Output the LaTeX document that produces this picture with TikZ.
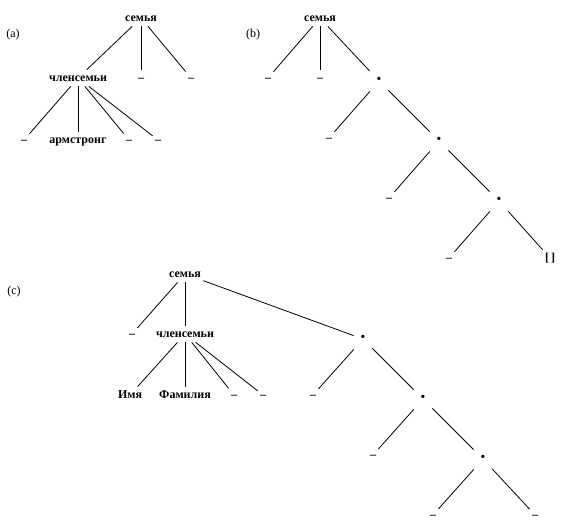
\documentclass[tikz,border=0pt]{standalone}
\usepackage{fontspec}
\setmainfont{Liberation Serif}

\begin{document}
\begin{tikzpicture}[x=1pt,y=-1pt,line width=0.8pt,
  lbl/.style={font=\fontsize{12}{14}\selectfont},
  term/.style={font=\fontsize{12}{14}\selectfont\bfseries,anchor=base,
    text height=9pt,text depth=3pt,inner sep=2pt},
  dotnode/.style={term,font=\fontsize{20}{22}\selectfont\bfseries,
    text height=12pt,text depth=4pt,minimum width=18pt}]
  \useasboundingbox (0,0) rectangle (564,530);

  \node[lbl] (la) at (13,35) {(a)};
  \node[term] (a0) at (141,21) {семья};
  \node[term] (a1) at (78,81) {членсемьи};
  \node[term] (a2) at (141,81) {–};
  \node[term] (a3) at (191,81) {–};
  \node[term] (a4) at (24,143) {–};
  \node[term] (a5) at (78,143) {армстронг};
  \node[term] (a6) at (129,143) {–};
  \node[term] (a7) at (158,143) {–};
  \draw (a0) -- (a1);
  \draw (a0) -- (a2);
  \draw (a0) -- (a3);
  \draw (a1) -- (a4);
  \draw (a1) -- (a5);
  \draw (a1) -- (a6);
  \draw (a1) -- (a7);

  \node[lbl] (lb) at (253,35) {(b)};
  \node[term] (b0) at (320,21) {семья};
  \node[term] (b1) at (268,81) {–};
  \node[term] (b2) at (320,81) {–};
  \node[dotnode] (b3) at (379,85) {·};
  \node[term] (b4) at (329,141) {–};
  \node[dotnode] (b5) at (439,145) {·};
  \node[term] (b6) at (389,201) {–};
  \node[dotnode] (b7) at (499,205) {·};
  \node[term] (b8) at (449,261) {–};
  \node[term] (b9) at (550,261) {[\,]};
  \draw (b0) -- (b1);
  \draw (b0) -- (b2);
  \draw (b0) -- (b3);
  \draw (b3) -- (b4);
  \draw (b3) -- (b5);
  \draw (b5) -- (b6);
  \draw (b5) -- (b7);
  \draw (b7) -- (b8);
  \draw (b7) -- (b9);

  \node[lbl] (lc) at (14,292) {(c)};
  \node[term] (c0) at (185,277) {семья};
  \node[term] (c1) at (132,337) {–};
  \node[term] (c2) at (185,337) {членсемьи};
  \node[dotnode] (c3) at (363,343) {·};
  \node[term] (c4) at (130,398) {Имя};
  \node[term] (c5) at (185,398) {Фамилия};
  \node[term] (c6) at (234,398) {–};
  \node[term] (c7) at (263,398) {–};
  \node[term] (c8) at (313,398) {–};
  \node[dotnode] (c9) at (423,403) {·};
  \node[term] (c10) at (373,458) {–};
  \node[dotnode] (c11) at (483,463) {·};
  \node[term] (c12) at (433,518) {–};
  \node[term] (c13) at (535,518) {–};
  \draw (c0) -- (c1);
  \draw (c0) -- (c2);
  \draw (c0) -- (c3);
  \draw (c2) -- (c4);
  \draw (c2) -- (c5);
  \draw (c2) -- (c6);
  \draw (c2) -- (c7);
  \draw (c3) -- (c8);
  \draw (c3) -- (c9);
  \draw (c9) -- (c10);
  \draw (c9) -- (c11);
  \draw (c11) -- (c12);
  \draw (c11) -- (c13);
\end{tikzpicture}
\end{document}
